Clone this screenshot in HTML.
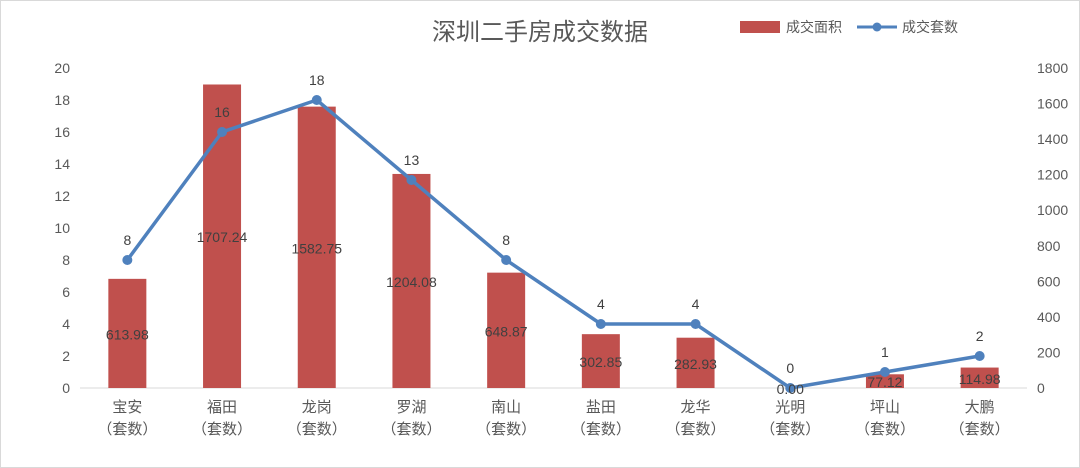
<!DOCTYPE html>
<html><head><meta charset="utf-8"><style>
body{margin:0;background:#fff;}
svg{display:block;font-family:"Liberation Sans","Noto Sans CJK SC",sans-serif;}
</style></head><body>
<svg id="chart" width="1080" height="468" viewBox="0 0 1080 468">
<rect x="0.5" y="0.5" width="1079" height="467" fill="#fff" stroke="#d9d9d9"/>
<text x="540" y="40" text-anchor="middle" font-size="24" fill="#595959">深圳二手房成交数据</text>
<g>
<rect x="740" y="21" width="40" height="12" fill="#c0504d"/>
<text x="786" y="32" font-size="14" fill="#595959">成交面积</text>
<line x1="857" y1="27" x2="897" y2="27" stroke="#4f81bd" stroke-width="3"/>
<circle cx="877" cy="27" r="4.5" fill="#4f81bd"/>
<text x="902" y="32" font-size="14" fill="#595959">成交套数</text>
</g>
<g id="plot"></g>
</svg>
<script>
const categories=["宝安","福田","龙岗","罗湖","南山","盐田","龙华","光明","坪山","大鹏"];
const areaValues=[613.98,1707.24,1582.75,1204.08,648.87,302.85,282.93,0.00,77.12,114.98];
const countValues=[8,16,18,13,8,4,4,0,1,2];
const leftTicks=[0,2,4,6,8,10,12,14,16,18,20];
const rightTicks=[0,200,400,600,800,1000,1200,1400,1600,1800];
const NS="http://www.w3.org/2000/svg";
const g=document.getElementById('plot');
const x0=80,x1=1027,yB=388,yT=68;
const band=(x1-x0)/categories.length;
const xc=i=>x0+band*(i+0.5);
const yL=v=>yB-(v/20)*(yB-yT);
const yR=v=>yB-(v/1800)*(yB-yT);
function mk(tag,attrs,txt){const e=document.createElementNS(NS,tag);for(const k in attrs)e.setAttribute(k,attrs[k]);if(txt!==undefined)e.textContent=txt;g.appendChild(e);return e;}
leftTicks.forEach(t=>{const e=mk('text',{x:70,y:yL(t)+5,'text-anchor':'end','font-size':14,fill:'#595959'},t);

});
rightTicks.forEach(t=>{const e=mk('text',{x:1037,y:yR(t)+5,'font-size':14,fill:'#595959'},t);

});
const ax=mk('line',{x1:x0,y1:yB,x2:x1,y2:yB,stroke:'#d9d9d9','stroke-width':1});


categories.forEach((c,i)=>{
const b=mk('rect',{x:xc(i)-19,y:yR(areaValues[i]),width:38,height:yB-yR(areaValues[i]),fill:'#c0504d'});


const t1=mk('text',{x:xc(i),y:412,'text-anchor':'middle','font-size':15,fill:'#595959'},c);


const t2=mk('text',{x:xc(i),y:434,'text-anchor':'middle','font-size':15,fill:'#595959'},'（套数）');


});
const pts=countValues.map((v,i)=>xc(i)+','+yL(v)).join(' ');
const pl=mk('polyline',{points:pts,fill:'none',stroke:'#4f81bd','stroke-width':3.5,'stroke-linejoin':'round'});


countValues.forEach((v,i)=>{
const c=mk('circle',{cx:xc(i),cy:yL(v),r:5,fill:'#4f81bd'});


});
categories.forEach((c,i)=>{
const a=mk('text',{x:xc(i),y:(yR(areaValues[i])+yB)/2+6,'text-anchor':'middle','font-size':14,fill:'#404040'},areaValues[i].toFixed(2));


const n=mk('text',{x:xc(i),y:yL(countValues[i])-15,'text-anchor':'middle','font-size':14,fill:'#404040'},countValues[i]);


});
</script>
</body></html>
